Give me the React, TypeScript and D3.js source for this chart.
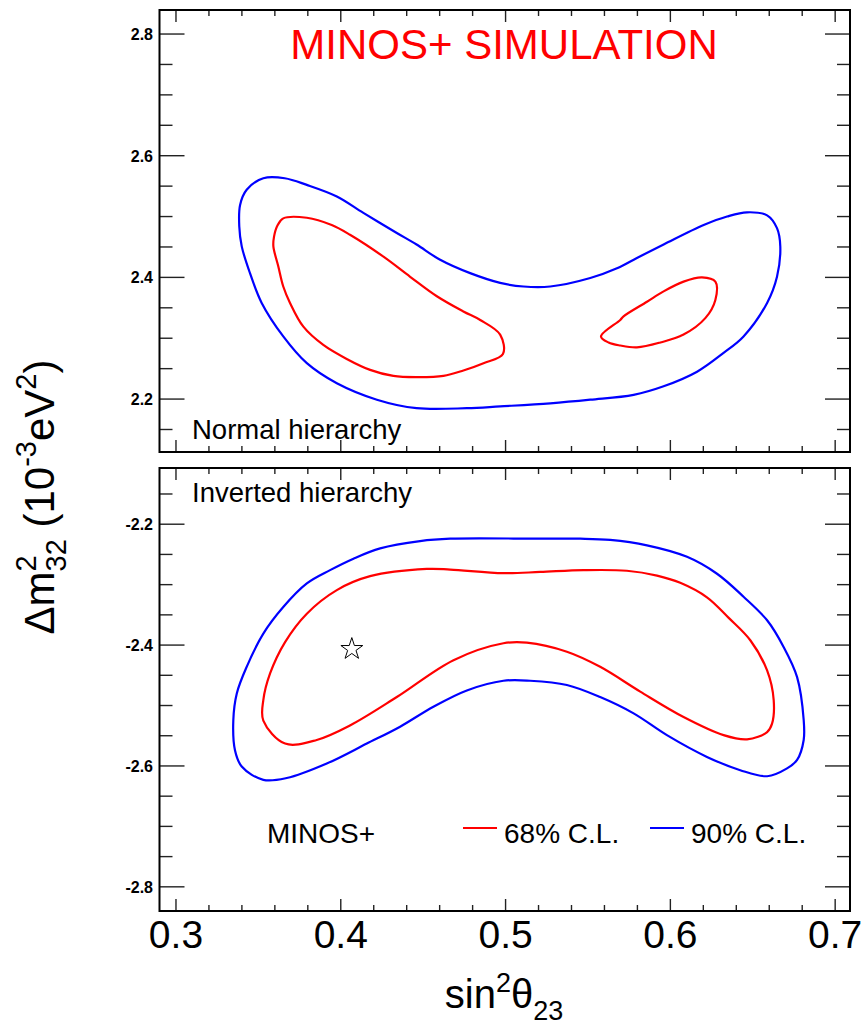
import React from "react";
import * as d3 from "d3";

// ---- data (sin^2 theta23, delta m^2_32 in 1e-3 eV^2) ----
const nhBlue90: [number, number][] = [
  [0.353, 2.563], [0.366, 2.563], [0.3794, 2.552], [0.3976, 2.533], [0.4137, 2.506],
  [0.434, 2.473], [0.446, 2.454], [0.4603, 2.429], [0.4785, 2.407], [0.4967, 2.391],
  [0.5109, 2.385], [0.5271, 2.385], [0.5514, 2.399], [0.5676, 2.415], [0.5797, 2.432],
  [0.5959, 2.454], [0.6202, 2.486], [0.6344, 2.5], [0.6465, 2.507], [0.6587, 2.502],
  [0.6647, 2.481], [0.6667, 2.451], [0.6647, 2.401], [0.6587, 2.358], [0.6444, 2.303],
  [0.6323, 2.276], [0.6162, 2.245], [0.5959, 2.221], [0.5777, 2.207], [0.5514, 2.199],
  [0.5271, 2.193], [0.4967, 2.188], [0.4765, 2.185], [0.446, 2.185], [0.4219, 2.199],
  [0.3976, 2.226], [0.3794, 2.259], [0.3651, 2.303], [0.352, 2.358], [0.3449, 2.407],
  [0.3399, 2.451], [0.3384, 2.484], [0.3389, 2.519], [0.3429, 2.544],
];
const nhRed68a: [number, number][] = [
  [0.3651, 2.497], [0.3794, 2.498], [0.3945, 2.486], [0.4056, 2.47], [0.4259, 2.434],
  [0.4421, 2.401], [0.4583, 2.369], [0.4744, 2.344], [0.4846, 2.33], [0.4967, 2.306],
  [0.4984, 2.274], [0.4866, 2.259], [0.4744, 2.247], [0.4623, 2.238], [0.4461, 2.236],
  [0.4319, 2.238], [0.4178, 2.248], [0.4036, 2.266], [0.3894, 2.289], [0.3773, 2.319],
  [0.3692, 2.358], [0.3651, 2.385], [0.3621, 2.418], [0.3591, 2.451], [0.3595, 2.467],
  [0.3615, 2.485],
];
const nhRed68b: [number, number][] = [
  [0.5579, 2.303], [0.5696, 2.33], [0.5716, 2.336], [0.5858, 2.36], [0.5959, 2.377],
  [0.608, 2.393], [0.6192, 2.4], [0.6273, 2.393], [0.6273, 2.363], [0.6212, 2.333],
  [0.608, 2.306], [0.5939, 2.293], [0.5797, 2.285], [0.5696, 2.288], [0.5625, 2.293],
];
const ihBlue90: [number, number][] = [
  [0.5635, -2.226], [0.5453, -2.224], [0.521, -2.224], [0.4664, -2.224], [0.4481, -2.228],
  [0.4239, -2.24], [0.4077, -2.257], [0.3935, -2.276], [0.3794, -2.298], [0.3651, -2.337],
  [0.353, -2.381], [0.3429, -2.436], [0.3369, -2.48], [0.3348, -2.524], [0.3358, -2.574],
  [0.3399, -2.601], [0.353, -2.623], [0.3672, -2.62], [0.3915, -2.596], [0.4158, -2.563],
  [0.436, -2.535], [0.4562, -2.502], [0.4765, -2.475], [0.4987, -2.459], [0.5149, -2.459],
  [0.5372, -2.466], [0.5574, -2.486], [0.5777, -2.513], [0.5979, -2.549], [0.6222, -2.585],
  [0.6424, -2.607], [0.6587, -2.617], [0.6708, -2.604], [0.6769, -2.59], [0.6809, -2.557],
  [0.6809, -2.524], [0.6769, -2.453], [0.6687, -2.403], [0.6587, -2.359], [0.6444, -2.32],
  [0.6283, -2.282], [0.6101, -2.254], [0.5858, -2.235],
];
const ihRed68: [number, number][] = [
  [0.5473, -2.276], [0.521, -2.279], [0.4987, -2.281], [0.4664, -2.275], [0.4522, -2.274],
  [0.4178, -2.286], [0.3976, -2.309], [0.3794, -2.348], [0.3662, -2.395], [0.3571, -2.447],
  [0.353, -2.491], [0.353, -2.525], [0.3662, -2.563], [0.3854, -2.557], [0.4056, -2.533],
  [0.434, -2.486], [0.4684, -2.425], [0.4987, -2.397], [0.5129, -2.396], [0.5372, -2.411],
  [0.5574, -2.436], [0.5817, -2.477], [0.608, -2.519], [0.6323, -2.549], [0.6465, -2.556],
  [0.6587, -2.544], [0.6617, -2.53], [0.6627, -2.491], [0.6587, -2.442], [0.6485, -2.392],
  [0.6354, -2.355], [0.6222, -2.321], [0.606, -2.297], [0.5919, -2.285], [0.5736, -2.277],
];
const bestFit: [number, number] = [0.4067, -2.4066];

const xTicks = [0.3, 0.4, 0.5, 0.6, 0.7];
const yTicksTop = [2.2, 2.4, 2.6, 2.8];
const yTicksBot = [-2.8, -2.6, -2.4, -2.2];
const titleText = "MINOS+ SIMULATION";
const legendItems = [
  { label: "68% C.L.", color: "#ff0000" },
  { label: "90% C.L.", color: "#0000ff" },
];

const W = 865;
const H = 1026;
const L = 159.5;
const R = 850;
const TOP = { y0: 10, y1: 452 };
const BOT = { y0: 468, y1: 911 };

const FONT = "'Liberation Sans', Arial, Helvetica, sans-serif";

export default function App() {
  const x = d3.scaleLinear().domain([0.29, 0.709]).range([L, R]);
  const yTop = d3.scaleLinear().domain([2.113, 2.8395]).range([TOP.y1, TOP.y0]);
  const yBot = d3.scaleLinear().domain([-2.84, -2.107]).range([BOT.y1, BOT.y0]);

  const lineTop = d3
    .line<[number, number]>()
    .x((d) => x(d[0]))
    .y((d) => yTop(d[1]))
    .curve(d3.curveCatmullRomClosed.alpha(0.5));
  const lineBot = d3
    .line<[number, number]>()
    .x((d) => x(d[0]))
    .y((d) => yBot(d[1]))
    .curve(d3.curveCatmullRomClosed.alpha(0.5));

  const xMinor = d3.range(0.3, 0.7001, 0.02).map((v) => +v.toFixed(2));

  const renderPanel = (
    y: d3.ScaleLinear<number, number>,
    box: { y0: number; y1: number },
    majors: number[],
    key: string
  ) => {
    const [dlo, dhi] = y.domain();
    const minors: number[] = [];
    for (let v = Math.ceil(dlo / 0.05) * 0.05; v <= dhi + 1e-9; v += 0.05) {
      minors.push(+v.toFixed(2));
    }
    const isMajorY = (v: number) => majors.some((m) => Math.abs(m - v) < 1e-6);
    const isMajorX = (v: number) => xTicks.some((m) => Math.abs(m - v) < 1e-6);
    return (
      <g key={key}>
        {minors.map((v) => {
          const len = isMajorY(v) ? 25 : 13;
          return (
            <g key={"y" + v} stroke="#222" strokeWidth={1.4}>
              <line x1={L} x2={L + len} y1={y(v)} y2={y(v)} />
              <line x1={R} x2={R - len} y1={y(v)} y2={y(v)} />
            </g>
          );
        })}
        {xMinor.map((v) => {
          const len = isMajorX(v) ? 12 : 6;
          return (
            <g key={"x" + v} stroke="#222" strokeWidth={1.4}>
              <line x1={x(v)} x2={x(v)} y1={box.y1} y2={box.y1 - len} />
              <line x1={x(v)} x2={x(v)} y1={box.y0} y2={box.y0 + len} />
            </g>
          );
        })}
        {majors.map((v) => (
          <text
            key={"l" + v}
            x={153}
            y={y(v) + 6}
            textAnchor="end"
            fontFamily={FONT}
            fontWeight="bold"
            fontSize={16}
            fill="#000"
          >
            {v.toFixed(1)}
          </text>
        ))}
        <rect
          x={L}
          y={box.y0}
          width={R - L}
          height={box.y1 - box.y0}
          fill="none"
          stroke="#000"
          strokeWidth={2}
        />
      </g>
    );
  };

  const star = d3.symbol().type(d3.symbolStar).size(148)();

  return (
    <svg
      width={W}
      height={H}
      style={{ position: "absolute", left: 0, top: 0, background: "#fff" }}
    >
      <rect x={0} y={0} width={W} height={H} fill="#fff" />
      {/* contours */}
      <path d={lineTop(nhBlue90) || ""} fill="none" stroke="#0000ff" strokeWidth={2.2} />
      <path d={lineTop(nhRed68a) || ""} fill="none" stroke="#ff0000" strokeWidth={2.2} />
      <path d={lineTop(nhRed68b) || ""} fill="none" stroke="#ff0000" strokeWidth={2.2} />
      <path d={lineBot(ihBlue90) || ""} fill="none" stroke="#0000ff" strokeWidth={2.2} />
      <path d={lineBot(ihRed68) || ""} fill="none" stroke="#ff0000" strokeWidth={2.2} />
      <path
        d={star || ""}
        transform={`translate(${x(bestFit[0])},${yBot(bestFit[1])})`}
        fill="#fff"
        stroke="#000"
        strokeWidth={1}
      />

      {renderPanel(yTop, TOP, yTicksTop, "top")}
      {renderPanel(yBot, BOT, yTicksBot, "bot")}

      {/* title */}
      <text x={504} y={59} textAnchor="middle" fontFamily={FONT} fontSize={42} fill="#ff0000">
        {titleText}
      </text>
      <text x={192} y={439} fontFamily={FONT} fontSize={27.5} fill="#000">
        Normal hierarchy
      </text>
      <text x={192} y={502} fontFamily={FONT} fontSize={27.5} fill="#000">
        Inverted hierarchy
      </text>

      {/* legend */}
      <text x={267} y={843} fontFamily={FONT} fontSize={28} fill="#000">
        MINOS+
      </text>
      {legendItems.map((it, i) => {
        const lx = 463 + i * 187;
        return (
          <g key={it.label}>
            <line x1={lx} x2={lx + 34} y1={828} y2={828} stroke={it.color} strokeWidth={2.2} />
            <text x={lx + 41} y={843} fontFamily={FONT} fontSize={28} fill="#000">
              {it.label}
            </text>
          </g>
        );
      })}

      {/* x tick labels */}
      {xTicks.map((v) => (
        <text
          key={"xt" + v}
          x={x(v)}
          y={948}
          textAnchor="middle"
          fontFamily={FONT}
          fontSize={39}
          fill="#000"
        >
          {v.toFixed(1)}
        </text>
      ))}

      {/* x title */}
      <text x={504} y={1008} textAnchor="middle" fontFamily={FONT} fontSize={40} fill="#000">
        <tspan>sin</tspan>
        <tspan dy={-16} fontSize={27}>2</tspan>
        <tspan dy={16}>θ</tspan>
        <tspan dy={12} fontSize={27}>23</tspan>
      </text>

      {/* y title */}
      <text
        transform="translate(54,497) rotate(-90)"
        textAnchor="middle"
        fontFamily={FONT}
        fontSize={42}
        fill="#000"
      >
        <tspan>Δm</tspan>
        <tspan dy={-18} fontSize={29}>2</tspan>
        <tspan dx={-16.1} dy={30} fontSize={29}>32</tspan>
        <tspan dy={-12}> (10</tspan>
        <tspan dy={-18} fontSize={29}>-3</tspan>
        <tspan dy={18}>eV</tspan>
        <tspan dy={-18} fontSize={29}>2</tspan>
        <tspan dy={18}>)</tspan>
      </text>
    </svg>
  );
}
